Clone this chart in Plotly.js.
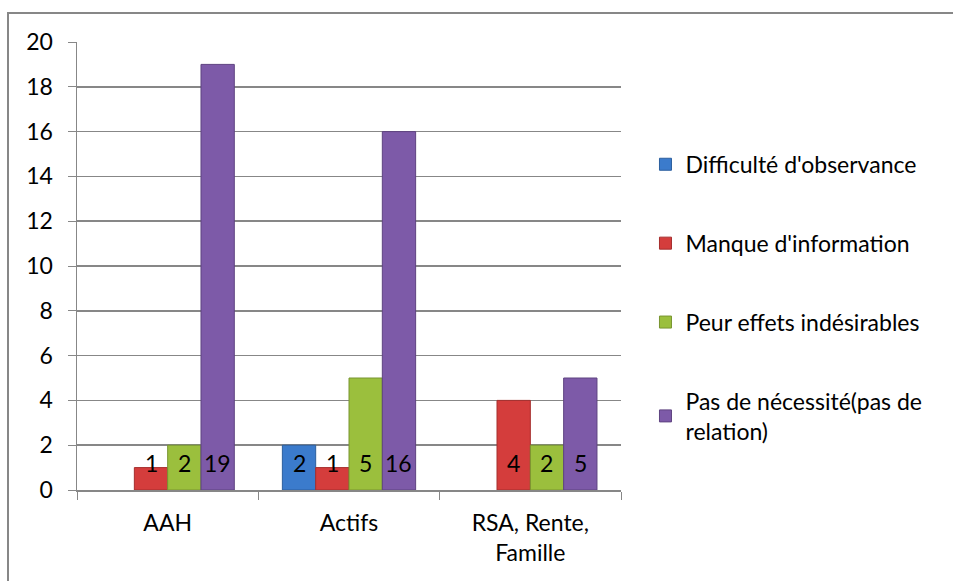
<!DOCTYPE html>
<html>
<head>
<meta charset="utf-8">
<script src="https://cdn.plot.ly/plotly-3.0.1.min.js"></script>
<style>
  html, body { margin: 0; padding: 0; background: #fff; }
  #chart { width: 953px; height: 581px; }
  #frame {
    position: absolute; left: 7px; top: 12px; width: 960px; height: 600px;
    border-left: 2px solid #878787; border-top: 2px solid #878787;
    pointer-events: none;
  }
</style>
</head>
<body>
<div id="chart"></div>
<div id="frame"></div>
<script>
const categories = ['AAH', 'Actifs', 'RSA, Rente,<br>Famille'];
const seriesNames = [
    "Difficulté d'observance",
    "Manque d'information",
    "Peur effets indésirables",
    "Pas de nécessité(pas de<br>relation)"
];
const difficulte = [null, 2, null];
const manque = [1, 1, 4];
const peur = [2, 5, 2];
const pasNecessite = [19, 16, 5];
const yTicks = [0, 2, 4, 6, 8, 10, 12, 14, 16, 18, 20];

const colors = ['#3b7bcc', '#d43d3c', '#9bbf3d', '#7d5aa8'];
const edges = ['#2c5f9e', '#a52e2d', '#789530', '#5e4380'];
const values = [difficulte, manque, peur, pasNecessite];
const font = 'Lato, "Open Sans", sans-serif';
const fontSize = 23;
const bargap = 0.265;

const traces = values.map((vals, i) => ({
    type: 'bar',
    name: seriesNames[i],
    x: categories,
    y: vals,
    marker: {color: colors[i], line: {color: edges[i], width: 1}},
    legendgroup: 'g' + i,
    hoverinfo: 'skip'
}));

// labels "inside base": one per bar, placed in the bar's slot of the group
const slot = (1 - bargap) / values.length;
const annotations = [];
values.forEach((vals, i) => {
    vals.forEach((v, c) => {
        if (v === null) return;
        annotations.push({
            xref: 'x', yref: 'y',
            x: c + (i - (values.length - 1) / 2) * slot,
            y: 0,
            yshift: 27,
            text: String(v),
            showarrow: false,
            xanchor: 'center', yanchor: 'middle',
            font: {family: font, size: fontSize, color: '#000'}
        });
    });
});

const layout = {
    width: 953,
    height: 581,
    margin: {l: 77, r: 332, t: 42, b: 91},
    paper_bgcolor: '#fff',
    plot_bgcolor: '#fff',
    font: {family: font, size: fontSize, color: '#000'},
    barmode: 'group',
    bargap: bargap,
    bargroupgap: 0,
    showlegend: true,
    legend: {
        x: 1.045, xanchor: 'left',
        y: 0.775, yanchor: 'top',
        font: {family: font, size: fontSize, color: '#000'},
        tracegroupgap: 46,
        itemwidth: 30,
        bgcolor: 'rgba(0,0,0,0)'
    },
    annotations: annotations,
    xaxis: {
        type: 'category',
        showline: true,
        linecolor: '#878787',
        linewidth: 1.5,
        ticks: 'outside',
        tickson: 'boundaries',
        ticklen: 8,
        tickcolor: '#878787',
        showgrid: false,
        ticklabelstandoff: 12,
        tickfont: {family: font, size: fontSize}
    },
    yaxis: {
        range: [0, 20],
        tickvals: yTicks,
        ticktext: yTicks.map(String),
        showline: true,
        linecolor: '#878787',
        linewidth: 1.5,
        ticks: 'outside',
        ticklen: 8,
        tickcolor: '#878787',
        showgrid: true,
        gridcolor: '#878787',
        gridwidth: 1.5,
        zeroline: false,
        ticklabelstandoff: 10,
        tickfont: {family: font, size: fontSize}
    }
};

Plotly.newPlot('chart', traces, layout, {staticPlot: true});
</script>
</body>
</html>
